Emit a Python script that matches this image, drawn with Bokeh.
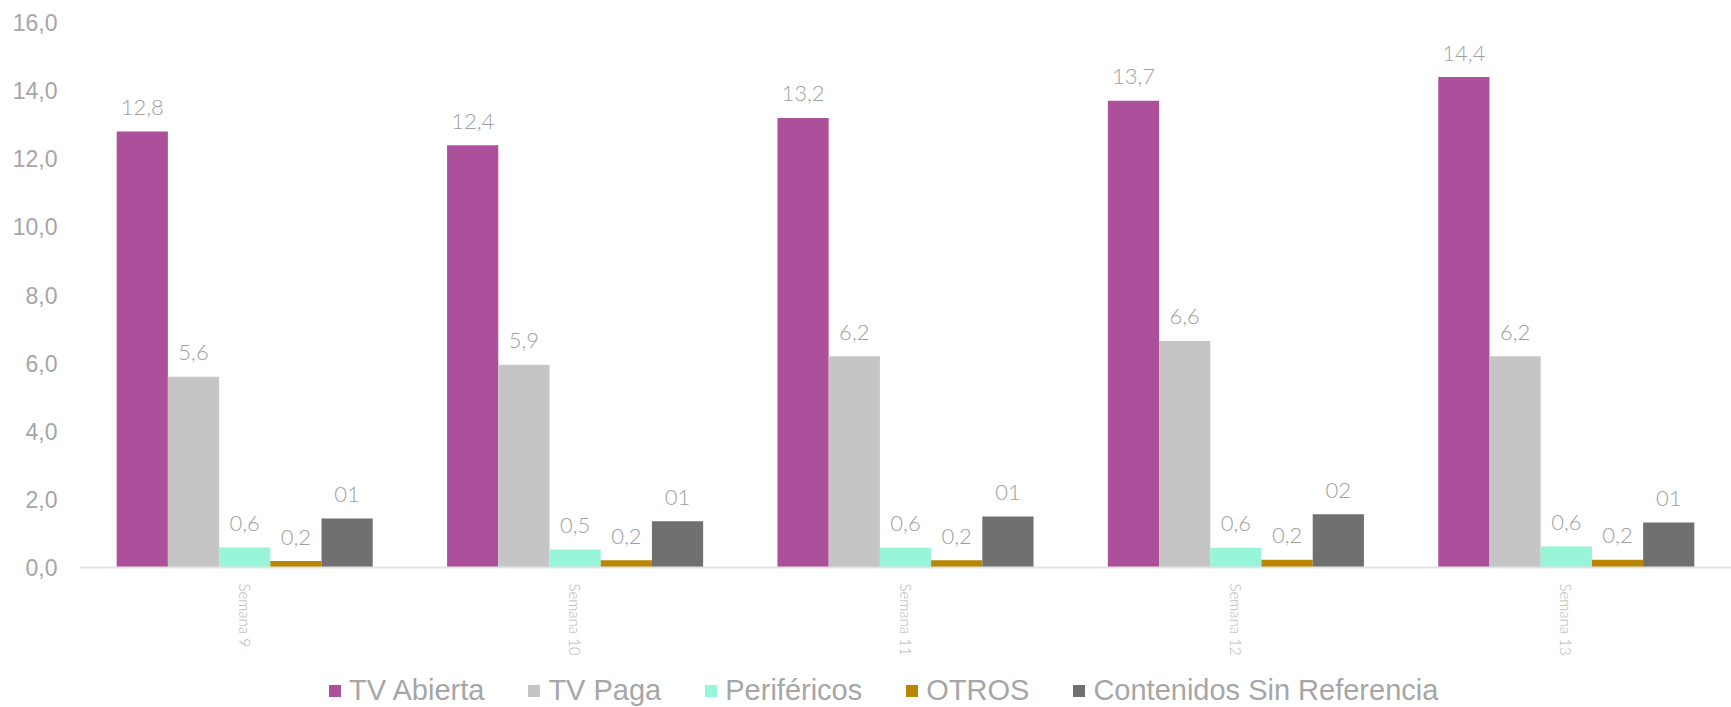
from bokeh.plotting import figure
from bokeh.models import ColumnDataSource, FactorRange, Range1d, FixedTicker, Legend, LegendItem
from bokeh.transform import dodge
from bokeh.core.properties import value
from bokeh.embed import file_html
from bokeh.resources import INLINE

semanas = ["Semana 9", "Semana 10", "Semana 11", "Semana 12", "Semana 13"]
series = ["TV Abierta", "TV Paga", "Periféricos", "OTROS", "Contenidos Sin Referencia"]
tv_abierta = [12.8, 12.4, 13.2, 13.7, 14.4]
tv_paga = [5.6, 5.95, 6.2, 6.65, 6.2]
perifericos = [0.59, 0.53, 0.58, 0.58, 0.62]
otros = [0.19, 0.21, 0.21, 0.23, 0.23]
contenidos = [1.44, 1.36, 1.5, 1.56, 1.32]
labels_abierta = ["12,8", "12,4", "13,2", "13,7", "14,4"]
labels_paga = ["5,6", "5,9", "6,2", "6,6", "6,2"]
labels_perif = ["0,6", "0,5", "0,6", "0,6", "0,6"]
labels_otros = ["0,2", "0,2", "0,2", "0,2", "0,2"]
labels_cont = ["01", "01", "01", "02", "01"]
y_ticks = [0, 2, 4, 6, 8, 10, 12, 14, 16]
y_tick_labels = ["0,0", "2,0", "4,0", "6,0", "8,0", "10,0", "12,0", "14,0", "16,0"]

colors = ["#AD509C", "#C5C5C5", "#98F5D9", "#B88600", "#707070"]
vals = [tv_abierta, tv_paga, perifericos, otros, contenidos]
labs = [labels_abierta, labels_paga, labels_perif, labels_otros, labels_cont]

THIN = "Lato Light"

# frame spans y 22..707; value 0 sits at y=567 (545 px for 16 units)
px_per_unit = 545 / 16
y_start = -(707 - 567) / px_per_unit

p = figure(x_range=FactorRange(factors=semanas, range_padding=0),
           y_range=Range1d(y_start, 16),
           width=1731, height=707, output_backend="svg", toolbar_location=None,
           min_border_left=79, min_border_right=0, min_border_top=22, min_border_bottom=0)
p.outline_line_color = None
p.xgrid.grid_line_color = None
p.ygrid.grid_line_color = None

bw = 0.155
offsets = [-2 * bw, -bw, 0, bw, 2 * bw]
items = []
for name, v, lab, c, off in zip(series, vals, labs, colors, offsets):
    src = ColumnDataSource(dict(cat=semanas, val=v, lab=lab))
    r = p.vbar(x=dodge("cat", off, range=p.x_range), top="val", width=bw,
               source=src, fill_color=c, line_color=None)
    p.text(x=dodge("cat", off, range=p.x_range), y="val", text="lab", source=src,
           text_align="center", text_baseline="alphabetic", y_offset=-24,
           text_font=value(THIN), text_font_size="22px", text_color="#A0A0A0")
    items.append(LegendItem(label=name, renderers=[r]))

# y axis
p.yaxis.ticker = FixedTicker(ticks=y_ticks)
p.yaxis.major_label_overrides = {t: l for t, l in zip(y_ticks, y_tick_labels)}
p.yaxis.axis_line_color = None
p.yaxis.major_tick_line_color = None
p.yaxis.minor_tick_line_color = None
p.yaxis.major_label_standoff = 16
p.yaxis.major_label_text_font = "Liberation Sans"
p.yaxis.major_label_text_font_size = "23px"
p.yaxis.major_label_text_color = "#A6A6A6"

# x axis, pinned at value 0
p.xaxis.fixed_location = 0
p.xaxis.axis_line_color = "#E3E3E3"
p.xaxis.axis_line_width = 2
p.xaxis.major_tick_line_color = None
p.xaxis.minor_tick_line_color = None
p.xaxis.major_label_orientation = "vertical"
p.xaxis.major_label_standoff = 10
p.xaxis.major_label_text_font = THIN
p.xaxis.major_label_text_font_size = "15px"
p.xaxis.major_label_text_color = "#B5B5B5"

legend = Legend(items=items, orientation="horizontal", location=(248, 0),
                glyph_width=15, glyph_height=15, label_standoff=7, spacing=42,
                padding=0, margin=0, border_line_color=None, background_fill_alpha=0,
                label_text_font="Liberation Sans", label_text_font_size="29px",
                label_text_color="#A6A6A6")
p.add_layout(legend, "center")

open("out.html", "w").write(file_html(p, INLINE))
